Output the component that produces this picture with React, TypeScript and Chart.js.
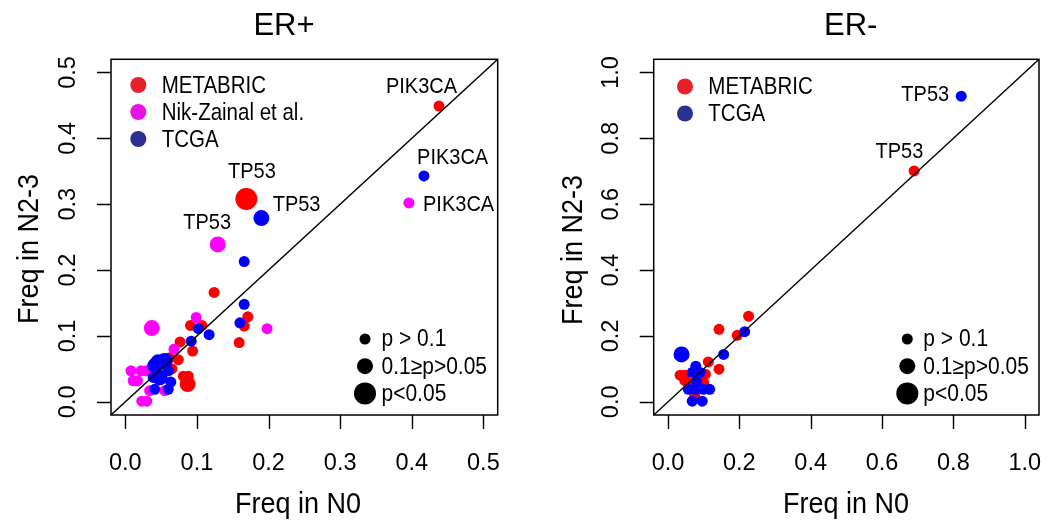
import { useEffect, useRef } from "react";
import { Chart, registerables } from "chart.js";

Chart.register(...registerables);

// ---------------- DATA ----------------
// p-value class: 1 = p > 0.1, 2 = 0.1 >= p > 0.05, 3 = p < 0.05
const erPosTitle = "ER+";
const erNegTitle = "ER-";
const xAxisTitle = "Freq in N0";
const yAxisTitle = "Freq in N2-3";

const erPosTicks = [0, 0.1, 0.2, 0.3, 0.4, 0.5];
const erPosTickLabels = ["0.0", "0.1", "0.2", "0.3", "0.4", "0.5"];
const erNegTicks = [0, 0.2, 0.4, 0.6, 0.8, 1.0];
const erNegTickLabels = ["0.0", "0.2", "0.4", "0.6", "0.8", "1.0"];

const erPosMetabricN0 = [0.438, 0.169, 0.124, 0.171, 0.166, 0.159, 0.091, 0.107, 0.0765, 0.094, 0.074, 0.062, 0.065, 0.081, 0.088, 0.087];
const erPosMetabricN23 = [0.449, 0.308, 0.166, 0.129, 0.115, 0.09, 0.116, 0.116, 0.091, 0.077, 0.064, 0.067, 0.05, 0.039, 0.039, 0.027];
const erPosMetabricP = [1, 3, 1, 1, 1, 1, 1, 1, 1, 1, 1, 1, 1, 1, 1, 2];

const erPosNikZainalN0 = [0.396, 0.129, 0.037, 0.099, 0.198, 0.068, 0.008, 0.011, 0.017, 0.022, 0.03, 0.034, 0.023, 0.03, 0.055];
const erPosNikZainalN23 = [0.302, 0.239, 0.112, 0.128, 0.111, 0.08, 0.047, 0.032, 0.032, 0.047, 0.047, 0.017, 0.001, 0.001, 0.017];
const erPosNikZainalP = [1, 2, 2, 1, 1, 1, 1, 1, 1, 1, 1, 1, 1, 1, 1];

const erPosTcgaN0 = [0.417, 0.19, 0.166, 0.166, 0.16, 0.102, 0.117, 0.092, 0.046, 0.055, 0.042, 0.06, 0.048, 0.039, 0.0635, 0.041, 0.06];
const erPosTcgaN23 = [0.343, 0.279, 0.213, 0.148, 0.12, 0.111, 0.102, 0.092, 0.06, 0.062, 0.055, 0.047, 0.037, 0.037, 0.03, 0.019, 0.019];
const erPosTcgaP = [1, 2, 1, 1, 1, 1, 1, 1, 2, 2, 2, 1, 2, 1, 1, 1, 1];

const erNegMetabricN0 = [0.69, 0.226, 0.143, 0.194, 0.113, 0.143, 0.034, 0.047, 0.047, 0.105, 0.1, 0.055, 0.075, 0.09];
const erNegMetabricN23 = [0.701, 0.26, 0.22, 0.202, 0.121, 0.099, 0.081, 0.081, 0.065, 0.084, 0.059, 0.059, 0.018, 0.07];
const erNegMetabricP = [1, 1, 1, 1, 1, 1, 1, 1, 1, 1, 1, 1, 1, 1];

const erNegTcgaN0 = [0.822, 0.215, 0.156, 0.038, 0.078, 0.068, 0.09, 0.057, 0.078, 0.099, 0.117, 0.068, 0.096, 0.08];
const erNegTcgaN23 = [0.928, 0.213, 0.144, 0.144, 0.108, 0.089, 0.089, 0.038, 0.038, 0.038, 0.038, 0.002, 0.002, 0.06];
const erNegTcgaP = [1, 1, 1, 2, 1, 1, 1, 1, 1, 1, 1, 1, 1, 1];

const sizeLegendLabels = ["p > 0.1", "0.1\u2265p>0.05", "p<0.05"];
const sizeLegendClasses = [1, 2, 3];

// gene labels: [text, N0, N2-3]
const erPosGeneLabels: [string, number, number][] = [
  ["PIK3CA", 0.438, 0.449],
  ["PIK3CA", 0.417, 0.343],
  ["PIK3CA", 0.396, 0.302],
  ["TP53", 0.169, 0.308],
  ["TP53", 0.19, 0.279],
  ["TP53", 0.129, 0.239],
];
const erNegGeneLabels: [string, number, number][] = [
  ["TP53", 0.822, 0.928],
  ["TP53", 0.69, 0.701],
];

// ---------------- STYLE ----------------
const FONT = "'Liberation Sans', Arial, Helvetica, sans-serif";
const RADIUS: Record<number, number> = { 1: 5.5, 2: 8, 3: 11 };
const COL_RED = "#FF0000";
const COL_MAG = "#FF00FF";
const COL_BLUE = "#0000FF";

type Series = { label: string; x: number[]; y: number[]; p: number[]; color: string; legendColor: string; order: number };

type Panel = {
  canvasLeft: number;
  width: number;
  min: number;
  max: number;
  ticks: number[];
  tickLabels: string[];
  title: string;
  series: Series[];
  geneLabels: [string, number, number][];
  labelOffsets: [number, number][]; // text-centre offset from point (px)
  padding: { left: number; right: number; top: number; bottom: number };
  titleX: number;
  xTitleX: number;
  yTitleX: number;
  yTitleY: number;
  legendX: number;
  legendY0: number;
  legendTextX: number;
  sizeLegX: number;
  sizeLegTextX: number;
};

const panels: Panel[] = [
  {
    canvasLeft: 0,
    width: 524,
    min: -0.02,
    max: 0.52,
    ticks: erPosTicks,
    tickLabels: erPosTickLabels,
    title: erPosTitle,
    series: [
      { label: "METABRIC", x: erPosMetabricN0, y: erPosMetabricN23, p: erPosMetabricP, color: COL_RED, legendColor: "#E8202A", order: 3 },
      { label: "Nik-Zainal et al.", x: erPosNikZainalN0, y: erPosNikZainalN23, p: erPosNikZainalP, color: COL_MAG, legendColor: "#E612E6", order: 2 },
      { label: "TCGA", x: erPosTcgaN0, y: erPosTcgaN23, p: erPosTcgaP, color: COL_BLUE, legendColor: "#2A3192", order: 1 },
    ],
    geneLabels: erPosGeneLabels,
    labelOffsets: [
      [-17.5, -19],
      [28.7, -18],
      [49.7, 2],
      [5.6, -27],
      [35.2, -13],
      [-10.5, -21.7],
    ],
    padding: { left: 111, right: 26.3, top: 59.3, bottom: 107 },
    titleX: 284,
    xTitleX: 298,
    yTitleX: 37.5,
    yTitleY: 249,
    legendX: 138.3,
    legendY0: 85,
    legendTextX: 161.7,
    sizeLegX: 365,
    sizeLegTextX: 381.5,
  },
  {
    canvasLeft: 524,
    width: 523,
    min: -0.04,
    max: 1.04,
    ticks: erNegTicks,
    tickLabels: erNegTickLabels,
    title: erNegTitle,
    series: [
      { label: "METABRIC", x: erNegMetabricN0, y: erNegMetabricN23, p: erNegMetabricP, color: COL_RED, legendColor: "#E8202A", order: 3 },
      { label: "TCGA", x: erNegTcgaN0, y: erNegTcgaN23, p: erNegTcgaP, color: COL_BLUE, legendColor: "#2A3192", order: 1 },
    ],
    geneLabels: erNegGeneLabels,
    labelOffsets: [
      [-36, -1],
      [-14.7, -19.3],
    ],
    padding: { left: 129.7, right: 7.7, top: 59.3, bottom: 107 },
    titleX: 850.7,
    xTitleX: 846,
    yTitleX: 581.5,
    yTitleY: 250,
    legendX: 685,
    legendY0: 86.5,
    legendTextX: 708.3,
    sizeLegX: 907.3,
    sizeLegTextX: 923.3,
  },
];

// draw text stretched vertically (the reference uses a tall, narrow-looking face)
function tallText(ctx: CanvasRenderingContext2D, txt: string, x: number, y: number, sy: number) {
  ctx.save();
  ctx.translate(x, y);
  ctx.scale(1, sy);
  ctx.fillText(txt, 0, 0);
  ctx.restore();
}

function makeDecorPlugin(panel: Panel) {
  const off = panel.canvasLeft;
  return {
    id: "rDecor",
    afterDraw(chart: any) {
      const { ctx, chartArea: a } = chart;
      const xs = chart.scales.x;
      const ys = chart.scales.y;
      ctx.save();
      ctx.fillStyle = "#000";
      ctx.strokeStyle = "#000";

      // box
      ctx.lineWidth = 1.5;
      ctx.strokeRect(a.left, a.top, a.right - a.left, a.bottom - a.top);

      // tick marks
      ctx.lineWidth = 1.4;
      ctx.beginPath();
      panel.ticks.forEach((v) => {
        const px = Math.round(xs.getPixelForValue(v)) + 0.5;
        ctx.moveTo(px, a.bottom);
        ctx.lineTo(px, a.bottom + 14);
        const py = Math.round(ys.getPixelForValue(v)) + 0.5;
        ctx.moveTo(a.left, py);
        ctx.lineTo(a.left - 14, py);
      });
      ctx.stroke();

      // tick labels
      ctx.font = `23.5px ${FONT}`;
      ctx.textAlign = "center";
      ctx.textBaseline = "alphabetic";
      panel.ticks.forEach((v, i) => {
        const px = xs.getPixelForValue(v);
        ctx.fillText(panel.tickLabels[i], px, 470);
        const py = ys.getPixelForValue(v);
        ctx.save();
        ctx.translate(a.left - 36, py);
        ctx.rotate(-Math.PI / 2);
        ctx.fillText(panel.tickLabels[i], 0, 0);
        ctx.restore();
      });

      // axis titles
      ctx.font = `27px ${FONT}`;
      tallText(ctx, xAxisTitle, panel.xTitleX - off, 513, 1.08);
      ctx.save();
      ctx.translate(panel.yTitleX - off, panel.yTitleY);
      ctx.rotate(-Math.PI / 2);
      tallText(ctx, yAxisTitle, 0, 0, 1.08);
      ctx.restore();

      // main title
      ctx.font = `31px ${FONT}`;
      ctx.fillText(panel.title, panel.titleX - off, 35);

      // gene labels
      ctx.font = `20px ${FONT}`;
      ctx.textBaseline = "middle";
      panel.geneLabels.forEach(([txt, gx, gy], i) => {
        const px = xs.getPixelForValue(gx);
        const py = ys.getPixelForValue(gy);
        const [dx, dy] = panel.labelOffsets[i];
        tallText(ctx, txt, px + dx, py + dy, 1.1);
      });

      // colour legend
      ctx.font = `20.5px ${FONT}`;
      ctx.textAlign = "left";
      panel.series.forEach((s, i) => {
        const cy = panel.legendY0 + i * 27;
        ctx.fillStyle = s.legendColor;
        ctx.beginPath();
        ctx.arc(panel.legendX - off, cy, 8, 0, Math.PI * 2);
        ctx.fill();
        ctx.fillStyle = "#000";
        tallText(ctx, s.label, panel.legendTextX - off, cy + 1, 1.15);
      });

      // size legend
      ctx.font = `21px ${FONT}`;
      sizeLegendClasses.forEach((c, i) => {
        const cy = 339 + i * 27.2;
        ctx.fillStyle = "#000";
        ctx.beginPath();
        ctx.arc(panel.sizeLegX - off, cy, RADIUS[c], 0, Math.PI * 2);
        ctx.fill();
        tallText(ctx, sizeLegendLabels[i], panel.sizeLegTextX - off, cy + 1, 1.1);
      });

      ctx.restore();
    },
  };
}

function PanelChart({ panel }: { panel: Panel }) {
  const ref = useRef<HTMLCanvasElement | null>(null);
  useEffect(() => {
    if (!ref.current) return;
    const datasets: any[] = panel.series.map((s) => ({
      type: "scatter",
      label: s.label,
      data: s.x.map((x, i) => ({ x, y: s.y[i] })),
      backgroundColor: s.color,
      borderColor: s.color,
      pointBackgroundColor: s.color,
      pointBorderWidth: 0,
      pointRadius: s.p.map((c) => RADIUS[c]),
      pointHoverRadius: s.p.map((c) => RADIUS[c]),
      order: s.order,
    }));
    datasets.push({
      type: "line",
      label: "y = x",
      data: [
        { x: -1, y: -1 },
        { x: 2, y: 2 },
      ],
      borderColor: "#000",
      borderWidth: 1.4,
      pointRadius: 0,
      fill: false,
      order: 0,
    });
    const chart = new Chart(ref.current, {
      type: "scatter",
      data: { datasets },
      options: {
        animation: false,
        responsive: false,
        events: [],
        layout: { padding: panel.padding },
        scales: {
          x: { type: "linear", min: panel.min, max: panel.max, display: false },
          y: { type: "linear", min: panel.min, max: panel.max, display: false },
        },
        plugins: {
          legend: { display: false },
          tooltip: { enabled: false },
          title: { display: false },
        },
      },
      plugins: [makeDecorPlugin(panel)],
    } as any);
    return () => chart.destroy();
  }, [panel]);
  return (
    <canvas
      ref={ref}
      width={panel.width}
      height={522}
      style={{ position: "absolute", left: panel.canvasLeft, top: 0, width: panel.width, height: 522 }}
    />
  );
}

export default function App() {
  return (
    <div style={{ position: "absolute", left: 0, top: 0, width: 1047, height: 522, background: "#fff" }}>
      {panels.map((p, i) => (
        <PanelChart key={i} panel={p} />
      ))}
    </div>
  );
}
